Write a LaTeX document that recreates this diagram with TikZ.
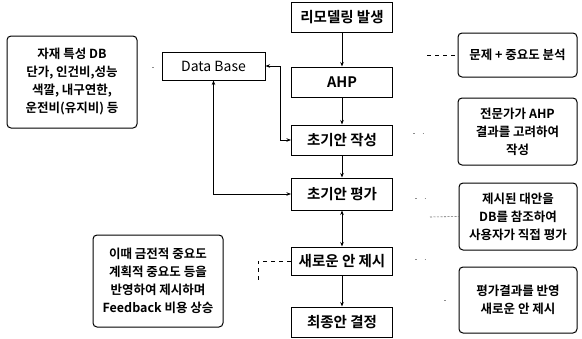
\documentclass[tikz,border=0pt]{standalone}
\usepackage{fontspec}
\setmainfont{Noto Sans CJK KR}[BoldFont={Noto Sans CJK KR Bold}]
\usetikzlibrary{arrows.meta}
\begin{document}
\begin{tikzpicture}[x=1pt,y=-1pt,
  mainbox/.style={draw,line width=1pt,minimum width=101pt,minimum height=30pt,inner sep=0pt,
    font=\fontsize{14.5}{16}\selectfont\bfseries},
  notebox/.style={draw,line width=1pt,rounded corners=4pt,inner sep=0pt,align=center,
    font=\fontsize{12.5}{18}\selectfont\bfseries},
  arr/.style={line width=0.7pt,-{Stealth[length=4.5pt,width=3.5pt]}},
  darr/.style={line width=0.7pt,{Stealth[length=4.5pt,width=3.5pt]}-{Stealth[length=4.5pt,width=3.5pt]}},
  dashln/.style={line width=0.6pt,dash pattern=on 4pt off 4pt},
  faint/.style={line width=0.6pt,black!45,dash pattern=on 1.5pt off 8pt},
]
\useasboundingbox (0,0) rectangle (582,338);
% main column
\node[mainbox] (a1) at (342,17.5) {리모델링 발생};
\node[mainbox] (a2) at (342,82) {AHP};
\node[mainbox] (a3) at (342,140) {초기안 작성};
\node[mainbox,minimum height=32pt] (a4) at (342,194) {초기안 평가};
\node[mainbox,minimum height=28pt] (a5) at (342,261) {새로운 안 제시};
\node[mainbox] (a6) at (342,322) {최종안 결정};
% data base
\node[draw,line width=1pt,minimum width=103pt,minimum height=28pt,inner sep=0pt,
  font=\fontsize{14}{16}\selectfont] (db) at (213.5,66) {Data Base};
% notes
\node[notebox,minimum width=130pt,minimum height=92pt] (n1) at (72,82)
  {자재 특성 DB\\단가, 인건비,성능\\색깔, 내구연한,\\운전비(유지비) 등};
\node[notebox,minimum width=130pt,minimum height=92pt] (n2) at (158,281)
  {이때 금전적 중요도\\계획적 중요도 등을\\반영하여 제시하며\\Feedback 비용 상승};
\node[notebox,minimum width=119pt,minimum height=44pt] (e1) at (517.5,55) {문제 + 중요도 분석};
\node[notebox,minimum width=119pt,minimum height=67pt] (e2) at (517.5,131.5) {전문가가 AHP\\결과를 고려하여\\작성};
\node[notebox,minimum width=118pt,minimum height=67pt] (e3) at (518,216.5) {제시된 대안을\\DB를 참조하여\\사용자가 직접 평가};
\node[notebox,minimum width=118pt,minimum height=66pt] (e4) at (518,300) {평가결과를 반영\\새로운 안 제시};
% main arrows
\draw[arr] (a1) -- (a2);
\draw[arr] (a2) -- (a3);
\draw[arr] (a3) -- (a4);
\draw[darr] (a4) -- (a5);
\draw[arr] (a5) -- (a6);
% data base links
\draw[darr] (db.east) -- ++(15,0) |- (a3.west);
\draw[darr] (db.south) |- (a4.west);
% dashed links
\coordinate (c1) at (427,55);
\draw[dashln] (c1) -- (e1.west);
\coordinate (c3) at (430,217);
\draw[line width=0.6pt,black!60,dash pattern=on 2pt off 1.5pt] (c3) -- (e3.west);
\coordinate (c5) at (258,282);
\draw[dashln] (a5.west) -- (258,261) -- (c5);
% faint traces
\coordinate (f2) at (430,133);
\draw[faint] (a3.east |- f2) ++(20,0) -- (f2);
\coordinate (f4) at (432,198);
\draw[faint] (a4.east |- f4) ++(22,0) -- (f4);
\coordinate (f5) at (432,259);
\draw[faint] (a5.east |- f5) ++(22,0) -- (f5);
\coordinate (f6) at (446,300);
\draw[faint] (f6) ++(-2,0) -- (f6);
\coordinate (f1) at (154,67);
\draw[faint] (f1) ++(-2,0) -- (f1);
\end{tikzpicture}
\end{document}
